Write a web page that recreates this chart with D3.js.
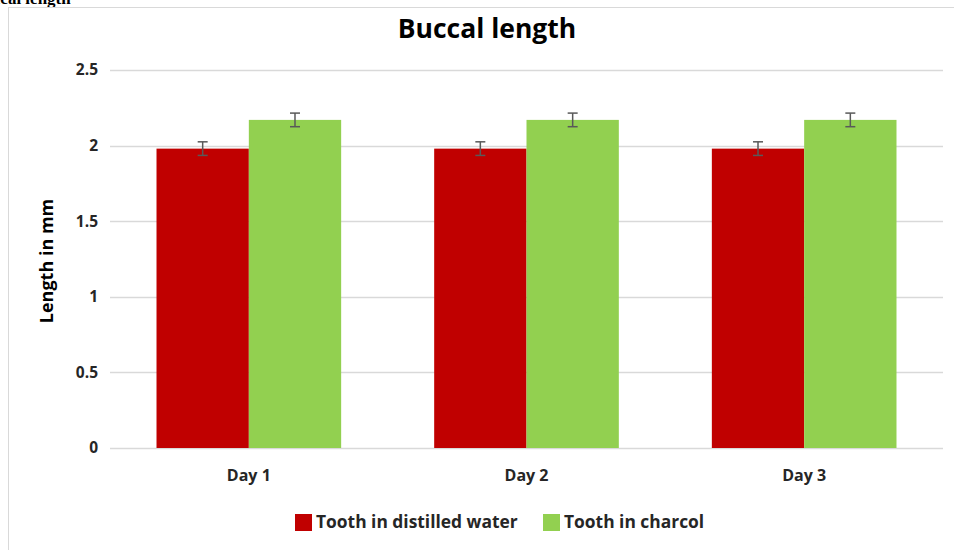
<!DOCTYPE html>
<meta charset="utf-8">
<head>
  <title>Buccal length</title>
</head>
<style>
  body { margin: 0; background: #fff; }
  text { font-family: "Open Sans", "DejaVu Sans", sans-serif; }
</style>
<script src="https://cdnjs.cloudflare.com/ajax/libs/d3/7.8.5/d3.min.js"></script>
<div id="chart"></div>
<script>
  // data
  var days = ["Day 1", "Day 2", "Day 3"];
  var seriesNames = ["Tooth in distilled water", "Tooth in charcol"];
  var water = [1.98, 1.98, 1.98];
  var charcol = [2.17, 2.17, 2.17];
  var waterErr = [0.045, 0.045, 0.045];
  var charcolErr = [0.045, 0.045, 0.045];
  var yTicks = [0, 0.5, 1, 1.5, 2, 2.5];
  var colors = ["#c00000", "#92d050"];

  var W = 954, H = 550;
  var margin = { top: 70, right: 11, bottom: 102, left: 110 },
    width = W - margin.left - margin.right,
    height = H - margin.top - margin.bottom;

  var svg = d3.select("#chart").append("svg")
    .attr("width", W)
    .attr("height", H);

  // piece of the document heading cut off at the top
  svg.append("text")
    .attr("x", -28)
    .attr("y", 4)
    .style("font-family", "'Liberation Serif', serif")
    .style("font-weight", "bold")
    .style("font-size", "17px")
    .text("Buccal length");

  // chart frame
  svg.append("rect")
    .attr("x", 8.5)
    .attr("y", 7.5)
    .attr("width", W)
    .attr("height", H)
    .attr("fill", "none")
    .attr("stroke", "#d9d9d9");

  var g = svg.append("g")
    .attr("transform", "translate(" + margin.left + "," + margin.top + ")");

  var x0 = d3.scaleBand()
    .domain(days)
    .range([0, width])
    .paddingInner(0.335)
    .paddingOuter(0.1675);

  var x1 = d3.scaleBand()
    .domain([0, 1])
    .range([0, x0.bandwidth()]);

  var y = d3.scaleLinear()
    .domain([0, 2.5])
    .range([height, 0]);

  // gridlines
  g.append("g")
    .selectAll("line")
    .data(yTicks)
    .enter()
    .append("line")
    .attr("x1", 0)
    .attr("x2", width)
    .attr("y1", function(d) { return Math.round(y(d)) + 0.5; })
    .attr("y2", function(d) { return Math.round(y(d)) + 0.5; })
    .attr("stroke", "#d9d9d9")
    .attr("stroke-width", 1.3);

  // y tick labels
  g.append("g")
    .selectAll("text")
    .data(yTicks)
    .enter()
    .append("text")
    .attr("x", -12)
    .attr("y", function(d) { return y(d); })
    .attr("dy", "0.35em")
    .style("text-anchor", "end")
    .style("font-size", "15.5px")
    .style("font-weight", "bold")
    .attr("fill", "#262626")
    .text(function(d) { return d; });

  // bars
  var rows = days.map(function(d, i) {
    return { day: d, vals: [water[i], charcol[i]], errs: [waterErr[i], charcolErr[i]] };
  });

  var groups = g.selectAll(".day")
    .data(rows)
    .enter()
    .append("g")
    .attr("class", "day")
    .attr("transform", function(d) { return "translate(" + x0(d.day) + ",0)"; });

  groups.selectAll("rect")
    .data(function(d) { return d.vals.map(function(v, k) { return { k: k, v: v }; }); })
    .enter()
    .append("rect")
    .attr("x", function(d) { return x1(d.k); })
    .attr("width", x1.bandwidth())
    .attr("y", function(d) { return y(d.v); })
    .attr("height", function(d) { return height - y(d.v); })
    .attr("fill", function(d) { return colors[d.k]; });

  // error bars
  var eb = groups.selectAll(".err")
    .data(function(d) { return d.vals.map(function(v, k) { return { k: k, v: v, e: d.errs[k] }; }); })
    .enter()
    .append("g")
    .attr("class", "err")
    .attr("stroke", "#595959")
    .attr("stroke-width", 1.5);

  eb.append("line")
    .attr("x1", function(d) { return x1(d.k) + x1.bandwidth() / 2; })
    .attr("x2", function(d) { return x1(d.k) + x1.bandwidth() / 2; })
    .attr("y1", function(d) { return y(d.v + d.e); })
    .attr("y2", function(d) { return y(d.v - d.e); });

  [1, -1].forEach(function(s) {
    eb.append("line")
      .attr("x1", function(d) { return x1(d.k) + x1.bandwidth() / 2 - 5; })
      .attr("x2", function(d) { return x1(d.k) + x1.bandwidth() / 2 + 5; })
      .attr("y1", function(d) { return y(d.v + s * d.e); })
      .attr("y2", function(d) { return y(d.v + s * d.e); });
  });

  // category labels
  g.append("g")
    .selectAll("text")
    .data(days)
    .enter()
    .append("text")
    .attr("x", function(d) { return x0(d) + x0.bandwidth() / 2; })
    .attr("y", height + 33)
    .style("text-anchor", "middle")
    .style("font-size", "16px")
    .style("font-weight", "bold")
    .attr("fill", "#262626")
    .text(function(d) { return d; });

  // title
  svg.append("text")
    .attr("x", 487)
    .attr("y", 38)
    .style("text-anchor", "middle")
    .style("font-size", "26.5px")
    .style("font-weight", "bold")
    .attr("fill", "#000")
    .text("Buccal length");

  // y axis label
  svg.append("text")
    .attr("transform", "translate(53," + (margin.top + height / 2 + 2) + ") rotate(-90)")
    .style("text-anchor", "middle")
    .style("font-size", "18px")
    .style("font-weight", "bold")
    .attr("fill", "#000")
    .text("Length in mm");

  // legend
  var legend = svg.append("g").attr("transform", "translate(295,512)");
  var lx = [0, 248];
  seriesNames.forEach(function(name, i) {
    legend.append("rect")
      .attr("x", lx[i])
      .attr("y", 2)
      .attr("width", 17)
      .attr("height", 17)
      .attr("fill", colors[i]);
    legend.append("text")
      .attr("x", lx[i] + 21)
      .attr("y", 16)
      .style("font-size", "17.4px")
      .style("font-weight", "bold")
      .attr("fill", "#262626")
      .text(name);
  });
</script>
